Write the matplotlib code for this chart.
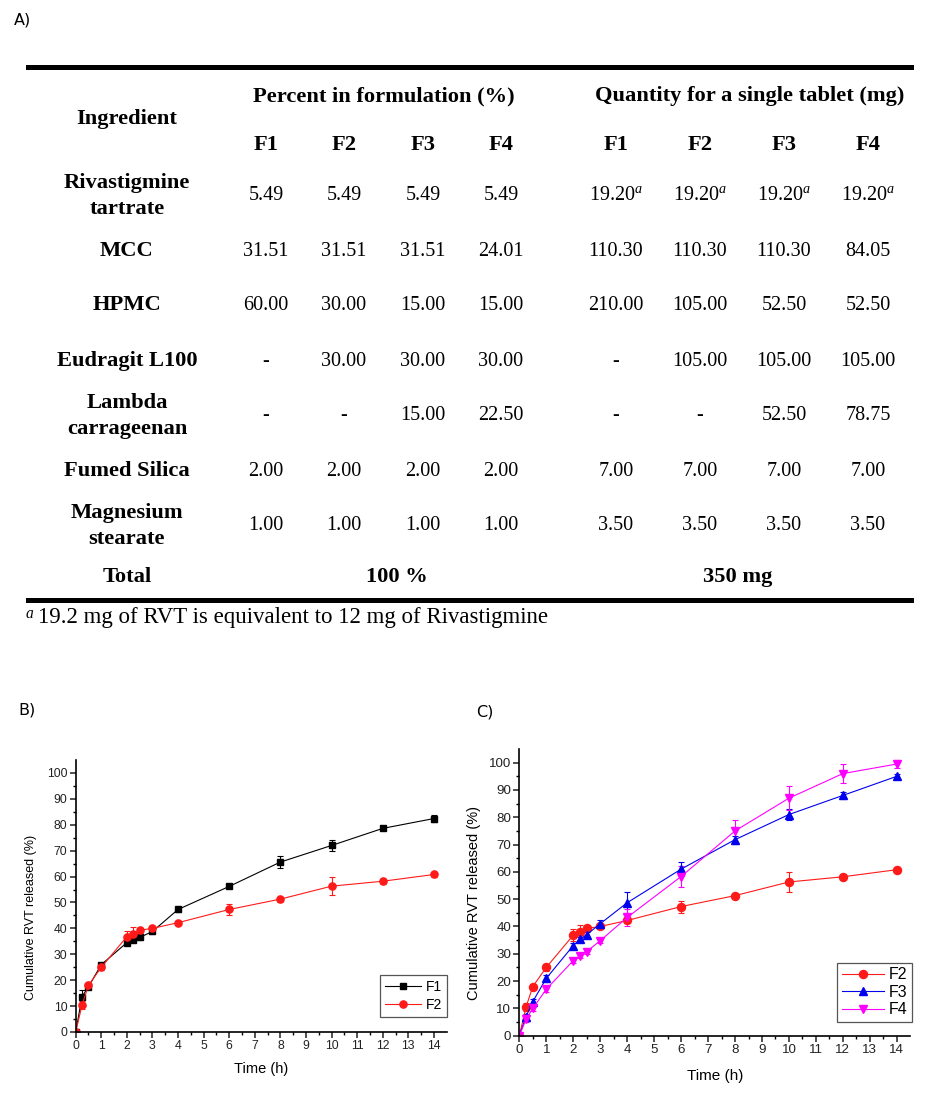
import numpy as np
import matplotlib
matplotlib.use('Agg')
import matplotlib.pyplot as plt
from matplotlib.lines import Line2D

plt.rcParams['mathtext.fontset'] = 'custom'
plt.rcParams['mathtext.rm'] = 'Liberation Serif'
plt.rcParams['mathtext.it'] = 'Liberation Serif:italic'

W, H = 936, 1105

# ---- table (A) ----
ingredients = ['Rivastigmine\ntartrate', 'MCC', 'HPMC', 'Eudragit L100',
               'Lambda\ncarrageenan', 'Fumed Silica', 'Magnesium\nstearate']
percent = [['5.49', '5.49', '5.49', '5.49'],
           ['31.51', '31.51', '31.51', '24.01'],
           ['60.00', '30.00', '15.00', '15.00'],
           ['-', '30.00', '30.00', '30.00'],
           ['-', '-', '15.00', '22.50'],
           ['2.00', '2.00', '2.00', '2.00'],
           ['1.00', '1.00', '1.00', '1.00']]
quantity = [['19.20$^{a}$', '19.20$^{a}$', '19.20$^{a}$', '19.20$^{a}$'],
            ['110.30', '110.30', '110.30', '84.05'],
            ['210.00', '105.00', '52.50', '52.50'],
            ['-', '105.00', '105.00', '105.00'],
            ['-', '-', '52.50', '78.75'],
            ['7.00', '7.00', '7.00', '7.00'],
            ['3.50', '3.50', '3.50', '3.50']]
formulations = ['F1', 'F2', 'F3', 'F4']

# ---- release data (B, C) ----
time_h = [0, 0.25, 0.5, 1, 2, 2.25, 2.5, 3, 4, 6, 8, 10, 12, 14]
f1 = [0, 13.7, 17.5, 26.0, 34.5, 35.7, 36.5, 38.8, 47.3, 56.2, 65.6, 72.0, 78.6, 82.4]
f1_err = [0, 2.5, 1.0, 0.8, 1.0, 0.8, 0.8, 0.8, 0.8, 0.8, 2.3, 2.0, 0.8, 1.2]
f2 = [0, 10.5, 18.0, 25.0, 36.8, 37.8, 39.3, 40.0, 42.2, 47.3, 51.3, 56.3, 58.2, 60.8]
f2_err = [0, 1.5, 0.8, 1.2, 2.3, 2.8, 1.0, 0.8, 0.8, 2.2, 1.0, 3.6, 1.0, 1.0]
f3 = [0, 7.0, 12.5, 21.0, 33.0, 35.3, 37.0, 41.0, 48.7, 61.0, 71.8, 81.0, 88.0, 95.0]
f3_err = [0, 1.0, 1.0, 1.2, 1.0, 1.0, 1.0, 1.5, 4.0, 2.5, 1.5, 2.0, 1.2, 1.0]
f4 = [0, 6.0, 10.0, 17.0, 27.5, 29.3, 30.8, 34.8, 43.3, 58.3, 75.0, 87.0, 96.0, 99.5]
f4_err = [0, 1.0, 1.0, 1.0, 1.0, 1.0, 1.0, 1.0, 3.0, 4.0, 4.0, 4.5, 3.5, 1.5]

fig = plt.figure(figsize=(W / 100, H / 100), dpi=100)


def T(x, y, s, **kw):
    kw.setdefault('ha', 'center')
    kw.setdefault('va', 'center')
    kw.setdefault('family', 'Liberation Serif')
    fig.text(x / W, 1 - y / H, s, **kw)


def hline(y, x0=28, x1=911, lw=3.6):
    fig.add_artist(Line2D([x0 / W, x1 / W], [1 - y / H] * 2, lw=lw, color='black'))


T(14, 20, 'A)', ha='left', family='DejaVu Sans', fontsize=11.5)
hline(67)
hline(600)

bold = dict(fontsize=16.2, weight='bold')
num = dict(fontsize=14.5)
T(127, 119, 'Ingredient', **bold)
T(384, 96, 'Percent in formulation (%)', **bold)
T(750, 96, 'Quantity for a single tablet (mg)', **bold)
pct_x = [266, 344, 423, 501]
qty_x = [616, 700, 784, 868]
for i, f in enumerate(formulations):
    T(pct_x[i], 145, f, **bold)
    T(qty_x[i], 145, f, **bold)

row_y = [196, 251, 305, 361, 416, 471, 526]
for r, name in enumerate(ingredients):
    T(127, row_y[r], name, linespacing=1.4, **bold)
    for c in range(4):
        T(pct_x[c], row_y[r], percent[r][c], **num)
        T(qty_x[c], row_y[r], quantity[r][c], **num)

T(127, 577, 'Total', **bold)
T(397, 577, '100 %', **bold)
T(738, 577, '350 mg', **bold)
T(25, 617, '$^{a}$', ha='left', fontsize=16)
T(38, 617, '19.2 mg of RVT is equivalent to 12 mg of Rivastigmine', ha='left', fontsize=16.5)


# ---- plots ----
def style_axes(ax, tick_fs):
    for s in ['top', 'right']:
        ax.spines[s].set_visible(False)
    for s in ['left', 'bottom']:
        ax.spines[s].set_linewidth(1.2)
    ax.set_xlim(0, 14.5)
    ax.set_ylim(0, 105)
    ax.set_xticks(range(0, 15))
    ax.set_xticks(np.arange(0.5, 14.5, 1), minor=True)
    ax.set_yticks(range(0, 101, 10))
    ax.set_yticks(range(5, 105, 10), minor=True)
    ax.tick_params(which='major', direction='out', length=4, width=1.1,
                   labelsize=tick_fs, colors='#222222', pad=2)
    ax.tick_params(which='minor', direction='out', length=2, width=1.0)
    for lab in ax.get_xticklabels() + ax.get_yticklabels():
        lab.set_family('Liberation Sans')
    ax.patch.set_alpha(0)


def series(ax, y, err, color, marker, label, ms):
    ax.errorbar(time_h, y, yerr=err, color=color, marker=marker, ms=ms,
                lw=0.8, elinewidth=0.8, capsize=2.2, capthick=0.8,
                markeredgecolor=color)
    return Line2D([], [], color=color, marker=marker, ms=ms, lw=0.8, label=label)


def px_axes(l, r, b, t):
    return fig.add_axes([l / W, 1 - b / H, (r - l) / W, (b - t) / H])


# B
axb = px_axes(75.7, 446.7, 1032, 760)
hb = [series(axb, f1, f1_err, 'black', 's', 'F1', 4.8),
      series(axb, f2, f2_err, '#ff1a1a', 'o', 'F2', 5.2)]
style_axes(axb, 8.8)
axb.set_xlabel('Time (h)', family='Liberation Sans', fontsize=10.5)
axb.set_ylabel('Cumulative RVT released (%)', family='Liberation Sans', fontsize=9)
axb.yaxis.set_label_coords(-0.105, 0.42)
axb.xaxis.set_label_coords(0.5, -0.112)
lg = axb.legend(handles=hb, loc='lower right', bbox_to_anchor=(1.0, 0.055), borderaxespad=0,
                fancybox=False, edgecolor='#555555', framealpha=1,
                prop={'family': 'Liberation Sans', 'size': 10},
                handlelength=2.6, handletextpad=0.3, labelspacing=0.3,
                borderpad=0.35)
lg.get_frame().set_linewidth(0.9)
T(18, 710, 'B)', ha='left', family='DejaVu Sans', fontsize=11.5)

# C
axc = px_axes(519.3, 910.3, 1035.7, 749)
hc = [series(axc, f2, f2_err, '#ff1a1a', 'o', 'F2', 5.8),
      series(axc, f3, f3_err, '#0000ee', '^', 'F3', 6.2),
      series(axc, f4, f4_err, '#ff00ff', 'v', 'F4', 6.2)]
style_axes(axc, 9.6)
axc.set_xlabel('Time (h)', family='Liberation Sans', fontsize=11)
axc.set_ylabel('Cumulative RVT released (%)', family='Liberation Sans', fontsize=10.5)
axc.yaxis.set_label_coords(-0.098, 0.463)
axc.xaxis.set_label_coords(0.5, -0.115)
lg = axc.legend(handles=hc, loc='lower right', bbox_to_anchor=(1.004, 0.048), borderaxespad=0,
                fancybox=False, edgecolor='#555555', framealpha=1,
                prop={'family': 'Liberation Sans', 'size': 11.5},
                handlelength=2.6, handletextpad=0.3, labelspacing=0.15,
                borderpad=0.3)
lg.get_frame().set_linewidth(0.9)
T(476, 712, 'C)', ha='left', family='DejaVu Sans', fontsize=11.5)

fig.savefig('out.png', dpi=100)
